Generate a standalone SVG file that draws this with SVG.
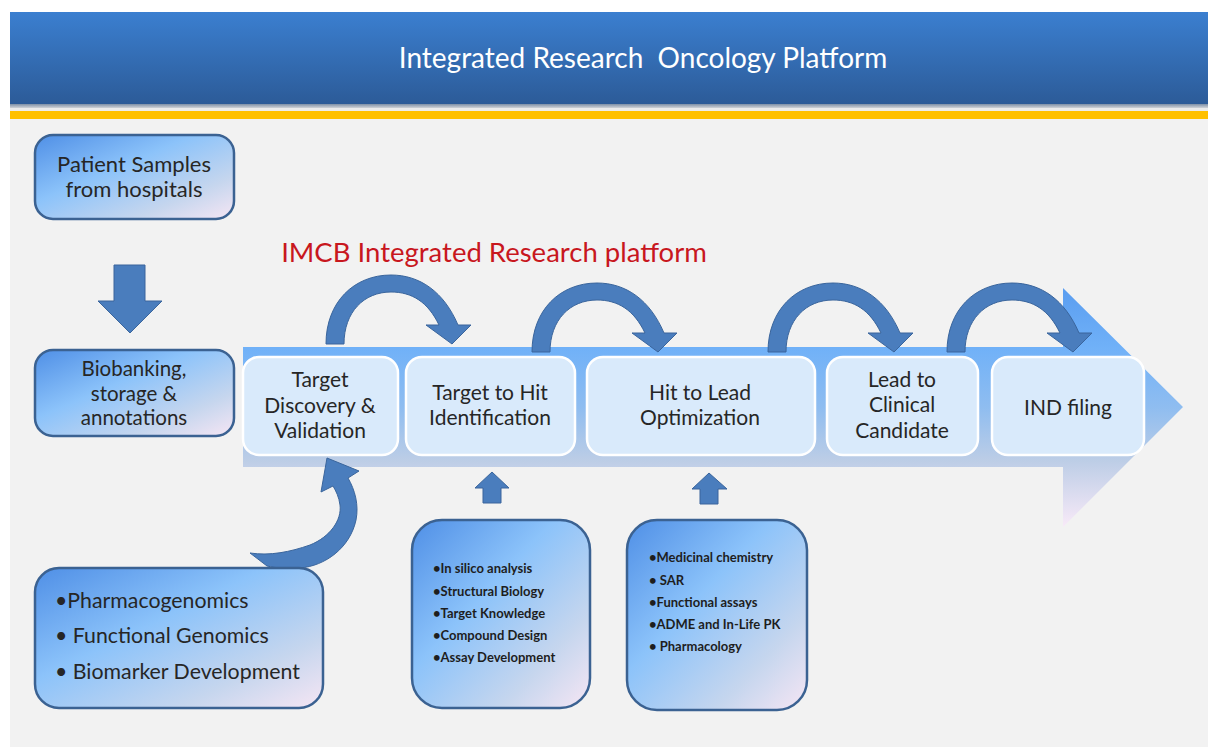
<svg xmlns="http://www.w3.org/2000/svg" width="1208" height="747" viewBox="0 0 1208 747">
  <defs>
    <linearGradient id="banner" x1="0" y1="0" x2="0" y2="1">
      <stop offset="0" stop-color="#3b7fd0"/>
      <stop offset="1" stop-color="#2c5b98"/>
    </linearGradient>
    <linearGradient id="bannerEdge" x1="0" y1="0" x2="0" y2="1">
      <stop offset="0" stop-color="#7d8fa6"/>
      <stop offset="1" stop-color="#d0d3d8"/>
    </linearGradient>
    <linearGradient id="sideFill" x1="0" y1="0" x2="1" y2="1">
      <stop offset="0" stop-color="#4f8fe6"/>
      <stop offset="0.4" stop-color="#8cc3fa"/>
      <stop offset="0.75" stop-color="#c6d6ee"/>
      <stop offset="1" stop-color="#f6e6f4"/>
    </linearGradient>
    <linearGradient id="flowFill" gradientUnits="userSpaceOnUse" x1="0" y1="288" x2="0" y2="527">
      <stop offset="0" stop-color="#5a9df0"/>
      <stop offset="0.25" stop-color="#70b1f8"/>
      <stop offset="0.5" stop-color="#8fbdf0"/>
      <stop offset="0.72" stop-color="#bccde6"/>
      <stop offset="1" stop-color="#f8eaf8"/>
    </linearGradient>
    <!-- curved hop arrow; origin at the outer foot, tip at (126,0) -->
    <path id="hop" d="M0,0 C0,-42 28,-69 65,-69 C94,-69 118,-52 132,-19 L145,-19 L126,0 L100,-19 L113,-19 C102,-42 86,-52 65,-52 C38,-52 18,-32 18,0 Z"/>
    <style>
      .side { fill: url(#sideFill); stroke: #3b6292; stroke-width: 2.5; }
      .stage { fill: #d9eafb; stroke: #ffffff; stroke-width: 2.5; }
      .arrow { fill: #4a7dbd; stroke: #3a659c; stroke-width: 1; }
      .t { font-family: Lato, "Liberation Sans", sans-serif; fill: #262626; text-anchor: middle; }
      .big { font-size: 21px; }
      .bigger { font-size: 22px; }
      .tight { font-size: 20.5px; }
      .list { font-family: Lato, "Liberation Sans", sans-serif; fill: #262626; font-size: 21.3px; }
      .small { font-family: Lato, "Liberation Sans", sans-serif; fill: #1e1e1e; font-size: 13px; font-weight: bold; }
    </style>
  </defs>

  <!-- page -->
  <rect width="1208" height="747" fill="#ffffff"/>
  <rect x="10" y="12" width="1198" height="735" fill="#f2f2f2"/>

  <!-- header band -->
  <g id="header">
    <rect x="10" y="12" width="1198" height="92" fill="url(#banner)"/>
    <rect x="10" y="104" width="1198" height="4" fill="url(#bannerEdge)"/>
    <rect x="10" y="108" width="1198" height="3" fill="#ececec"/>
    <rect x="10" y="111" width="1198" height="8" fill="#ffc000"/>
    <text x="643" y="68" font-family="Lato, 'Liberation Sans', sans-serif" font-size="28" fill="#ffffff" text-anchor="middle" xml:space="preserve">Integrated Research  Oncology Platform</text>
  </g>

  <!-- platform flow arrow -->
  <g id="flow">
    <polygon points="243,347 1063,347 1063,288 1183,407 1063,527 1063,467 243,467" fill="url(#flowFill)"/>
  </g>

  <text id="platform-label" x="494" y="262" font-family="Lato, 'Liberation Sans', sans-serif" font-size="27.5" fill="#c8171e" text-anchor="middle">IMCB Integrated Research platform</text>

  <g id="connectors">
    <!-- sample intake -->
    <polygon class="arrow" points="114,265 145,265 145,301 162,301 130,333 98,301 114,301"/>
    <!-- hops between stages -->
    <use href="#hop" class="arrow" x="326" y="344"/>
    <use href="#hop" class="arrow" x="532" y="352"/>
    <use href="#hop" class="arrow" x="768" y="352"/>
    <use href="#hop" class="arrow" x="947" y="352"/>
    <!-- genomics feed into discovery -->
    <path class="arrow" d="M250,553 C270,556 290,552 310,545 C330,537 342,520 340,505 C339,497 336,491 333,486 L321,492 L327,458 L359,471 L348,478 C355,490 359,505 356,520 C350,548 325,566 300,568 C288,569 276,568 267,566 Z"/>
    <!-- support inputs -->
    <polygon class="arrow" points="483,503 501,503 501,488 509,488 492,472 475,488 483,488"/>
    <polygon class="arrow" points="700,504 718,504 718,489 727,489 709,473 692,489 700,489"/>
  </g>

  <g id="patient-samples">
    <rect class="side" x="35" y="135" width="199" height="84" rx="18"/>
    <text class="t bigger" x="134" y="172">Patient Samples</text>
    <text class="t bigger" x="134" y="197">from hospitals</text>
  </g>

  <g id="biobanking">
    <rect class="side" x="35" y="350" width="199" height="86" rx="18"/>
    <text class="t tight" x="134" y="376">Biobanking,</text>
    <text class="t tight" x="134" y="400.5">storage &amp;</text>
    <text class="t tight" x="134" y="425">annotations</text>
  </g>

  <g id="target-discovery">
    <rect class="stage" x="243" y="357" width="155" height="98" rx="16"/>
    <text class="t big" x="320" y="387">Target</text>
    <text class="t big" x="320" y="413">Discovery &amp;</text>
    <text class="t big" x="320" y="438">Validation</text>
  </g>

  <g id="target-to-hit">
    <rect class="stage" x="406" y="357" width="169" height="98" rx="16"/>
    <text class="t big" x="490" y="400">Target to Hit</text>
    <text class="t big" x="490" y="425">Identification</text>
  </g>

  <g id="hit-to-lead">
    <rect class="stage" x="587" y="357" width="228" height="98" rx="16"/>
    <text class="t big" x="700" y="400">Hit to Lead</text>
    <text class="t big" x="700" y="425">Optimization</text>
  </g>

  <g id="lead-to-clinical">
    <rect class="stage" x="827" y="357" width="151" height="98" rx="16"/>
    <text class="t big" x="902" y="387">Lead to</text>
    <text class="t big" x="902" y="412">Clinical</text>
    <text class="t big" x="902" y="438">Candidate</text>
  </g>

  <g id="ind-filing">
    <rect class="stage" x="992" y="357" width="152" height="98" rx="16"/>
    <text class="t big" x="1068" y="415">IND filing</text>
  </g>

  <g id="genomics">
    <rect class="side" x="35" y="568" width="288" height="140" rx="24"/>
    <text class="list" x="55" y="608">•Pharmacogenomics</text>
    <text class="list" x="55" y="643">• Functional Genomics</text>
    <text class="list" x="55" y="679">• Biomarker Development</text>
  </g>

  <g id="hit-id-methods">
    <rect class="side" x="412" y="520" width="178" height="188" rx="30"/>
    <text class="small" x="433" y="573">•In silico analysis</text>
    <text class="small" x="433" y="596">•Structural Biology</text>
    <text class="small" x="433" y="618">•Target Knowledge</text>
    <text class="small" x="433" y="640">•Compound Design</text>
    <text class="small" x="433" y="662">•Assay Development</text>
  </g>

  <g id="lead-opt-methods">
    <rect class="side" x="627" y="520" width="180" height="190" rx="30"/>
    <text class="small" x="649" y="562">•Medicinal chemistry</text>
    <text class="small" x="649" y="585">• SAR</text>
    <text class="small" x="649" y="607">•Functional assays</text>
    <text class="small" x="649" y="629">•ADME and In-Life PK</text>
    <text class="small" x="649" y="651">• Pharmacology</text>
  </g>
</svg>
